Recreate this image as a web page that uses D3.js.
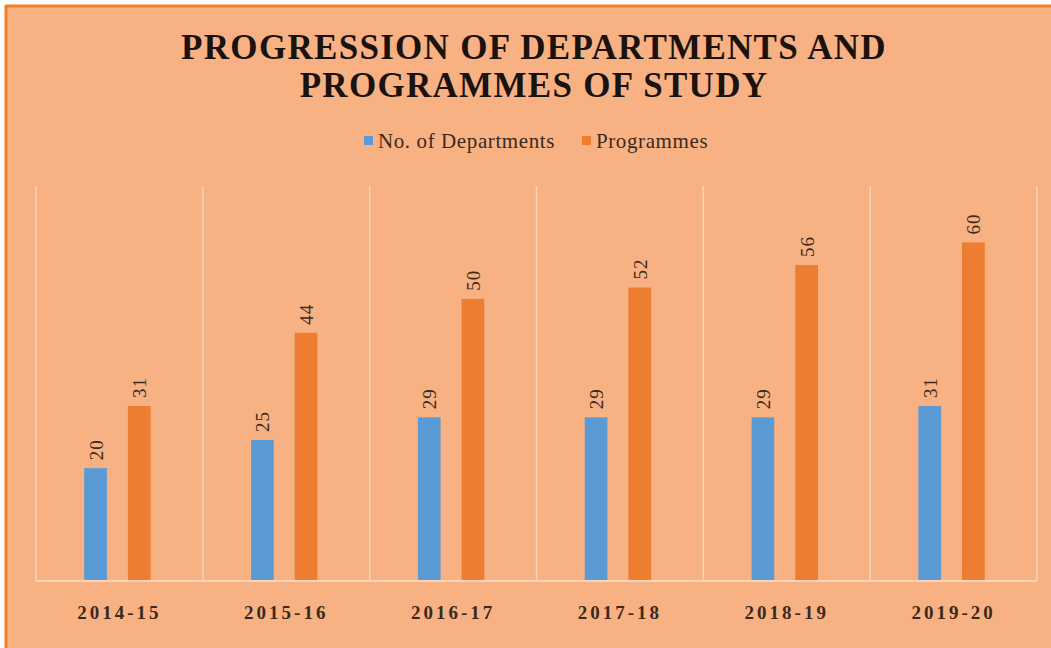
<!DOCTYPE html>
<html>
<head>
<meta charset="utf-8">
<script src="https://cdn.jsdelivr.net/npm/d3@7"></script>
<style>
  body { margin: 0; background: #fff; }
  svg { display: block; }
</style>
</head>
<body>
<div id="chart"></div>
<script>
// chart data
const years = ["2014-15", "2015-16", "2016-17", "2017-18", "2018-19", "2019-20"];
const departments = [20, 25, 29, 29, 29, 31];
const programmes = [31, 44, 50, 52, 56, 60];
const seriesNames = ["No. of Departments", "Programmes"];
const titleLines = ["PROGRESSION OF DEPARTMENTS AND", "PROGRAMMES OF STUDY"];

const width = 1051;
const height = 648;
const colors = ["#5B9BD5", "#ED7D31"];
const bg = "#F8B183";
const textCol = "#3b2a1c";

const svg = d3.select("#chart")
  .append("svg")
  .attr("width", width)
  .attr("height", height);

// panel with orange edge on top and left
svg.append("rect")
  .attr("x", 6).attr("y", 5)
  .attr("width", width).attr("height", height)
  .attr("fill", bg);
svg.append("line")
  .attr("x1", 6).attr("x2", width).attr("y1", 6).attr("y2", 6)
  .attr("stroke", "#F47F20").attr("stroke-width", 3);
svg.append("line")
  .attr("x1", 6).attr("x2", 6).attr("y1", 5).attr("y2", height)
  .attr("stroke", "#F47F20").attr("stroke-width", 3);

// title
svg.append("g")
  .selectAll("text")
  .data(titleLines)
  .enter()
  .append("text")
  .attr("x", 534)
  .attr("y", (d, i) => 59 + i * 38)
  .attr("text-anchor", "middle")
  .style("font-family", "'Liberation Serif', 'DejaVu Serif', serif")
  .style("font-weight", "bold")
  .style("font-size", "35px")
  .style("letter-spacing", "1.3px")
  .attr("fill", "#1a120c")
  .text(d => d);

// legend
const legendX = [364, 582];
const legend = svg.append("g");
seriesNames.forEach((name, i) => {
  legend.append("rect")
    .attr("x", legendX[i]).attr("y", 136)
    .attr("width", 9).attr("height", 9)
    .attr("fill", colors[i]);
  legend.append("text")
    .attr("x", legendX[i] + 14)
    .attr("y", 148)
    .style("font-family", "'Liberation Serif', serif")
    .style("font-size", "21px")
    .style("letter-spacing", "0.6px")
    .attr("fill", textCol)
    .text(name);
});

// plot area
const plot = { left: 36, right: 1037, top: 186, bottom: 581 };

const x = d3.scaleBand()
  .domain(years)
  .range([plot.left, plot.right])
  .padding(0);

const inner = d3.scaleBand()
  .domain([0, 1])
  .range([0, x.bandwidth()])
  .paddingInner(0.48)
  .paddingOuter(1.15)
  .align(0.48);

const y = d3.scaleLinear()
  .domain([0, 70])
  .range([plot.bottom, plot.top]);

// vertical separators
const grid = svg.append("g");
d3.range(years.length + 1).forEach(i => {
  const gx = plot.left + i * x.bandwidth();
  grid.append("line")
    .attr("x1", gx).attr("x2", gx)
    .attr("y1", plot.top).attr("y2", plot.bottom)
    .attr("stroke", "#FAD3B8").attr("stroke-width", 1.5);
});

// bars
const groups = svg.append("g")
  .selectAll("g")
  .data(years)
  .enter()
  .append("g")
  .attr("transform", d => `translate(${x(d)},0)`);

[departments, programmes].forEach((vals, s) => {
  groups.append("rect")
    .attr("x", inner(s))
    .attr("width", inner.bandwidth())
    .attr("y", (d, i) => y(vals[i]))
    .attr("height", (d, i) => plot.bottom - y(vals[i]))
    .attr("fill", colors[s]);

  groups.append("text")
    .attr("transform", (d, i) =>
      `translate(${inner(s) + inner.bandwidth() / 2 + 7},${y(vals[i]) - 8}) rotate(-90)`)
    .attr("text-anchor", "start")
    .style("font-family", "'Liberation Serif', serif")
    .style("font-size", "19px")
    .style("letter-spacing", "1px")
    .attr("fill", textCol)
    .text((d, i) => vals[i]);
});

// bottom axis line
svg.append("line")
  .attr("x1", plot.left).attr("x2", plot.right)
  .attr("y1", plot.bottom).attr("y2", plot.bottom)
  .attr("stroke", "#FAD3B8").attr("stroke-width", 2);

// category labels
const xAxis = svg.append("g")
  .attr("transform", `translate(0,${plot.bottom})`)
  .call(d3.axisBottom(x).tickSize(0).tickPadding(0));
xAxis.select(".domain").remove();
xAxis.selectAll("text")
  .attr("y", 38)
  .attr("dy", 0)
  .style("font-family", "'Liberation Serif', serif")
  .style("font-weight", "bold")
  .style("font-size", "19px")
  .style("letter-spacing", "3px")
  .attr("fill", textCol);
</script>
</body>
</html>
